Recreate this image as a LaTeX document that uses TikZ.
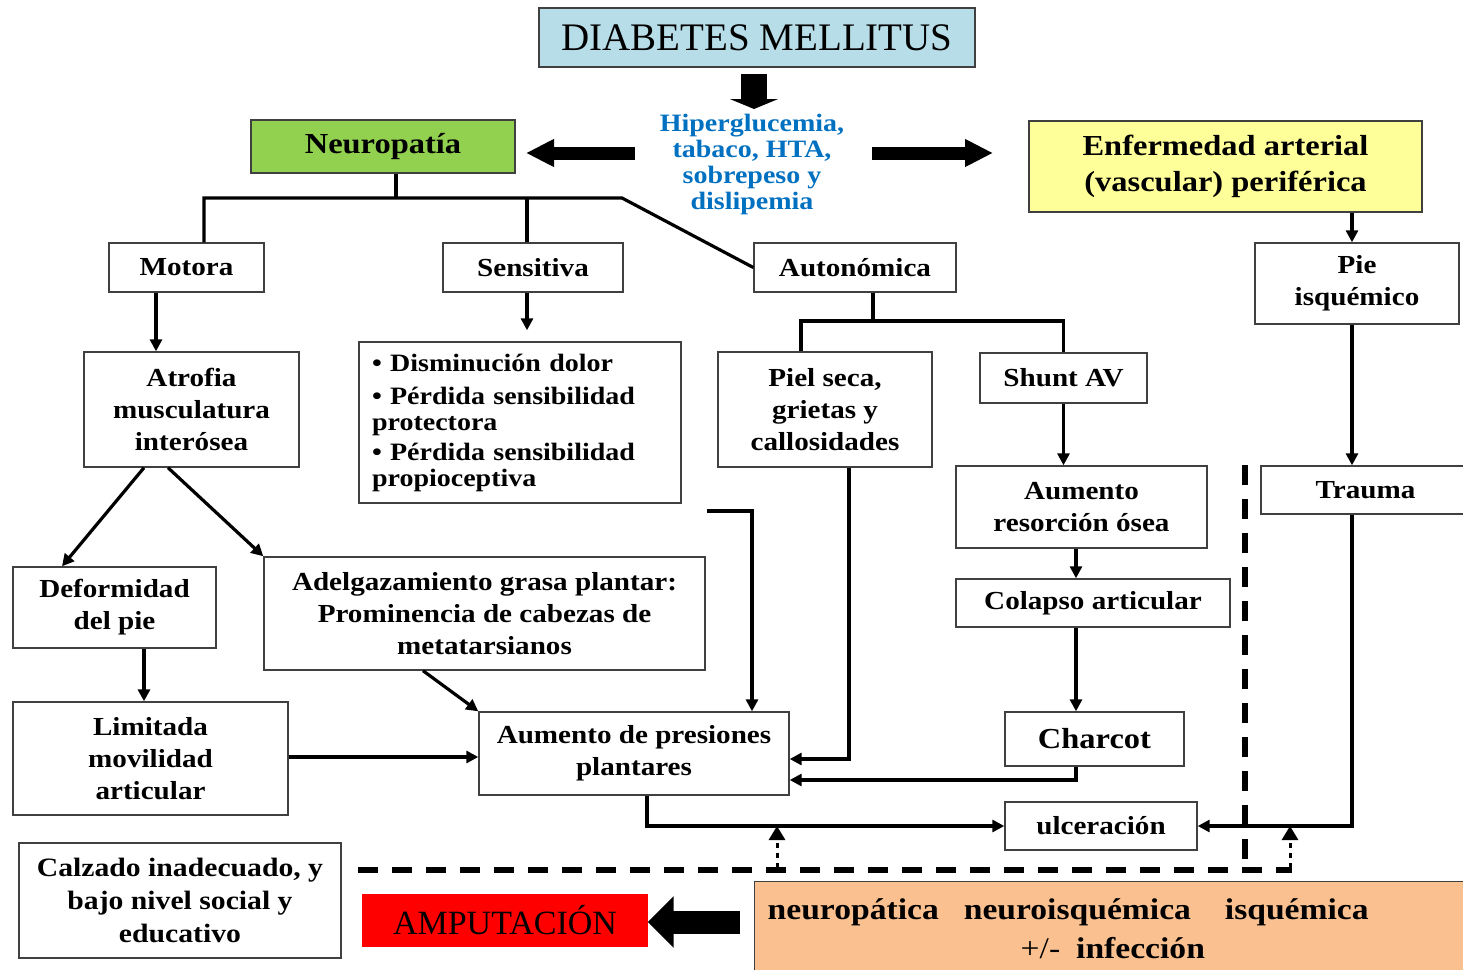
\documentclass[tikz,border=0pt]{standalone}
\usepackage{fontspec}
\setmainfont{Liberation Serif}
\newfontfamily\bodyfont{Liberation Serif}[FakeStretch=1.12]
\usetikzlibrary{arrows.meta}
\definecolor{dmblue}{HTML}{B7DEE8}
\definecolor{neugreen}{HTML}{92D050}
\definecolor{enfyellow}{HTML}{FFFF99}
\definecolor{riskblue}{HTML}{0070C0}
\definecolor{amred}{HTML}{FF0000}
\definecolor{orangefill}{HTML}{FAC090}
\definecolor{boxline}{HTML}{404040}
\begin{document}
\begin{tikzpicture}[x=1pt,y=-1pt,
  box/.style={draw=boxline, line width=1.4pt, fill=white, inner sep=0pt, align=center,
    font=\bodyfont\bfseries\fontsize{26}{32}\selectfont},
  bigbox/.style={box, font=\bodyfont\bfseries\fontsize{29}{36}\selectfont},
  line/.style={draw=black, line width=3.2pt},
  arr/.style={line, -{Triangle[length=12pt,width=12pt]}},
  dashline/.style={draw=black, line width=5.5pt, dash pattern=on 20pt off 14pt},
  dotarr/.style={draw=black, line width=3pt, dash pattern=on 5pt off 5pt,
    -{Triangle[length=14pt,width=16pt]}},
  blockarr/.style={draw=black, -{Triangle[length=28pt,width=26pt]}}
]
\useasboundingbox[fill=white] (0,0) rectangle (1463,969);

% ---------- nodes ----------
\node[box, fill=dmblue, minimum width=436pt, minimum height=59pt,
  font=\fontsize{39}{44}\selectfont] (dm) at (757,37.5) {DIABETES MELLITUS};
\node[bigbox, fill=neugreen, minimum width=264pt, minimum height=53pt] (neuro) at (383,146.5) {Neuropatía};
\node[align=center, inner sep=0pt, text=riskblue,
  font=\bodyfont\bfseries\fontsize{25}{25.7}\selectfont] (risk) at (752,164.5)
  {Hiperglucemia,\\tabaco, HTA,\\sobrepeso y\\dislipemia};
\node[bigbox, fill=enfyellow, minimum width=393pt, minimum height=91pt] (enf) at (1225.5,166.5)
  {Enfermedad arterial\\(vascular) periférica};

\node[box, minimum width=155pt, minimum height=49pt] (motora) at (186.5,267.5) {Motora};
\node[box, minimum width=180pt, minimum height=49pt] (sens) at (533,267.5) {Sensitiva};
\node[box, minimum width=202pt, minimum height=49pt] (auto) at (855,267.5) {Autonómica};
\node[box, minimum width=204pt, minimum height=81pt] (pie) at (1357,283.5) {Pie\\isquémico};

\node[box, minimum width=215pt, minimum height=115pt] (atrofia) at (191.5,409.5)
  {Atrofia\\musculatura\\interósea};
\node[box, text width=296pt, inner xsep=13pt, align=left, minimum height=161pt,
  font=\bodyfont\bfseries\fontsize{25}{26}\selectfont] (lista) at (520,422.5)
  {\textbullet\ Disminución dolor\\[7pt]
   \textbullet\ Pérdida sensibilidad\\ protectora\\[4pt]
   \textbullet\ Pérdida sensibilidad\\ propioceptiva\\[8pt]};
\node[box, minimum width=214pt, minimum height=115pt] (piel) at (825,409.5)
  {Piel seca,\\grietas y\\callosidades};
\node[box, minimum width=167pt, minimum height=50pt] (shunt) at (1063.5,378) {Shunt AV};
\node[box, minimum width=251pt, minimum height=82pt] (resorc) at (1081.5,507)
  {Aumento\\resorción ósea};
\node[box, minimum width=274pt, minimum height=48pt] (colapso) at (1093,603) {Colapso articular};
\node[bigbox, minimum width=179pt, minimum height=54pt] (charcot) at (1094.5,739) {Charcot};
\node[box, minimum width=209pt, minimum height=48pt] (trauma) at (1365.5,490) {Trauma};

\node[box, minimum width=203pt, minimum height=81pt] (defor) at (114.5,607.5) {Deformidad\\del pie};
\node[box, minimum width=441pt, minimum height=113pt] (adelg) at (484.5,613.5)
  {Adelgazamiento grasa plantar:\\Prominencia de cabezas de\\metatarsianos};
\node[box, minimum width=275pt, minimum height=113pt] (limit) at (150.5,758.5)
  {Limitada\\movilidad\\articular};
\node[box, minimum width=310pt, minimum height=83pt] (aumento) at (634,753.5)
  {Aumento de presiones\\plantares};
\node[box, minimum width=192pt, minimum height=48pt] (ulcer) at (1101,826) {ulceración};

\node[box, minimum width=322pt, minimum height=115pt,
  font=\bodyfont\bfseries\fontsize{26.5}{33}\selectfont] (calz) at (180,900.5)
  {Calzado inadecuado, y\\bajo nivel social y\\educativo};
\node[box, fill=amred, draw=amred, minimum width=284pt, minimum height=51pt,
  font=\fontsize{34}{40}\selectfont] (amp) at (505,920.5) {AMPUTACIÓN};
\node[box, fill=orangefill, draw=boxline, anchor=north west, text width=690pt,
  inner xsep=13pt, align=left, minimum height=94pt,
  font=\bodyfont\bfseries\fontsize{30}{39}\selectfont] (orange) at (754,881)
  {neuropática\hspace{25pt}neuroisquémica\hspace{34pt}isquémica\\
   \hspace*{253pt}{\mdseries +/-}\hspace{16pt}infección};

% ---------- block arrows ----------
\draw[blockarr, line width=26pt, -{Triangle[length=10pt,width=48pt]}]
  (dm.south -| 754,0) ++(0,6) -- (754,109);
\draw[blockarr, line width=13pt] (635,153) -- (526,153);
\draw[blockarr, line width=13pt] (872,153) -- (993,153);
\draw[blockarr, line width=23pt, -{Triangle[length=26pt,width=50pt]}]
  (orange.west |- 0,922) ++(-14,0) -- (amp.east |- 0,922);

% ---------- tree connectors ----------
\draw[line] (neuro.south -| 396,0) -- (396,198);
\draw[line] (motora.north -| 204,0) |- (622,198) -- (auto.west);
\draw[line] (sens.north -| 527,0) -- (527,198);
\draw[line] (auto.south -| 873,0) -- (873,321);
\draw[line] (piel.north -| 801,0) |- (shunt.north |- 0,321) -- (shunt.north);

% ---------- arrows ----------
\draw[arr] (enf.south -| 1352,0) -- (pie.north -| 1352,0);
\draw[arr] (motora.south -| 156,0) -- (atrofia.north -| 156,0);
\draw[arr, shorten >=11pt] (sens.south -| 527,0) -- (lista.north -| 527,0);
\draw[arr] (shunt.south) -- (resorc.north -| shunt.south);
\draw[arr] (resorc.south -| 1076,0) -- (colapso.north -| 1076,0);
\draw[arr] (colapso.south -| 1076,0) -- (charcot.north -| 1076,0);
\draw[arr] (charcot.south -| 1076,0) |- (aumento.east |- 0,780);
\draw[arr] (piel.south -| 849,0) |- (aumento.east |- 0,759);
\coordinate (free) at (707,511);
\draw[arr] (free) -| (aumento.north -| 752,0);
\draw[arr] (pie.south -| 1352,0) -- (trauma.north -| 1352,0);
\draw[arr] (trauma.south -| 1352,0) |- (ulcer.east);
\draw[arr] (atrofia.south -| 144,0) -- (defor.north -| 62,0);
\draw[arr] (atrofia.south -| 168,0) -- (adelg.north west);
\draw[arr] (defor.south -| 144,0) -- (limit.north -| 144,0);
\draw[arr] (limit.east |- 0,757) -- (aumento.west |- 0,757);
\draw[arr] (adelg.south -| 423,0) -- (aumento.north west);
\draw[arr] (aumento.south -| 647,0) |- (ulcer.west);

% ---------- dashed ----------
\coordinate (dstart) at (358,870);
\coordinate (dend) at (1292,870);
\coordinate (vtop) at (1245,465);
\draw[dashline] (dstart) -- (dend);
\draw[dashline] (vtop) -- (1245,868);
\draw[dotarr] (777,868) -- (777,826);
\draw[dotarr] (1290,868) -- (1290,826);
\end{tikzpicture}
\end{document}
